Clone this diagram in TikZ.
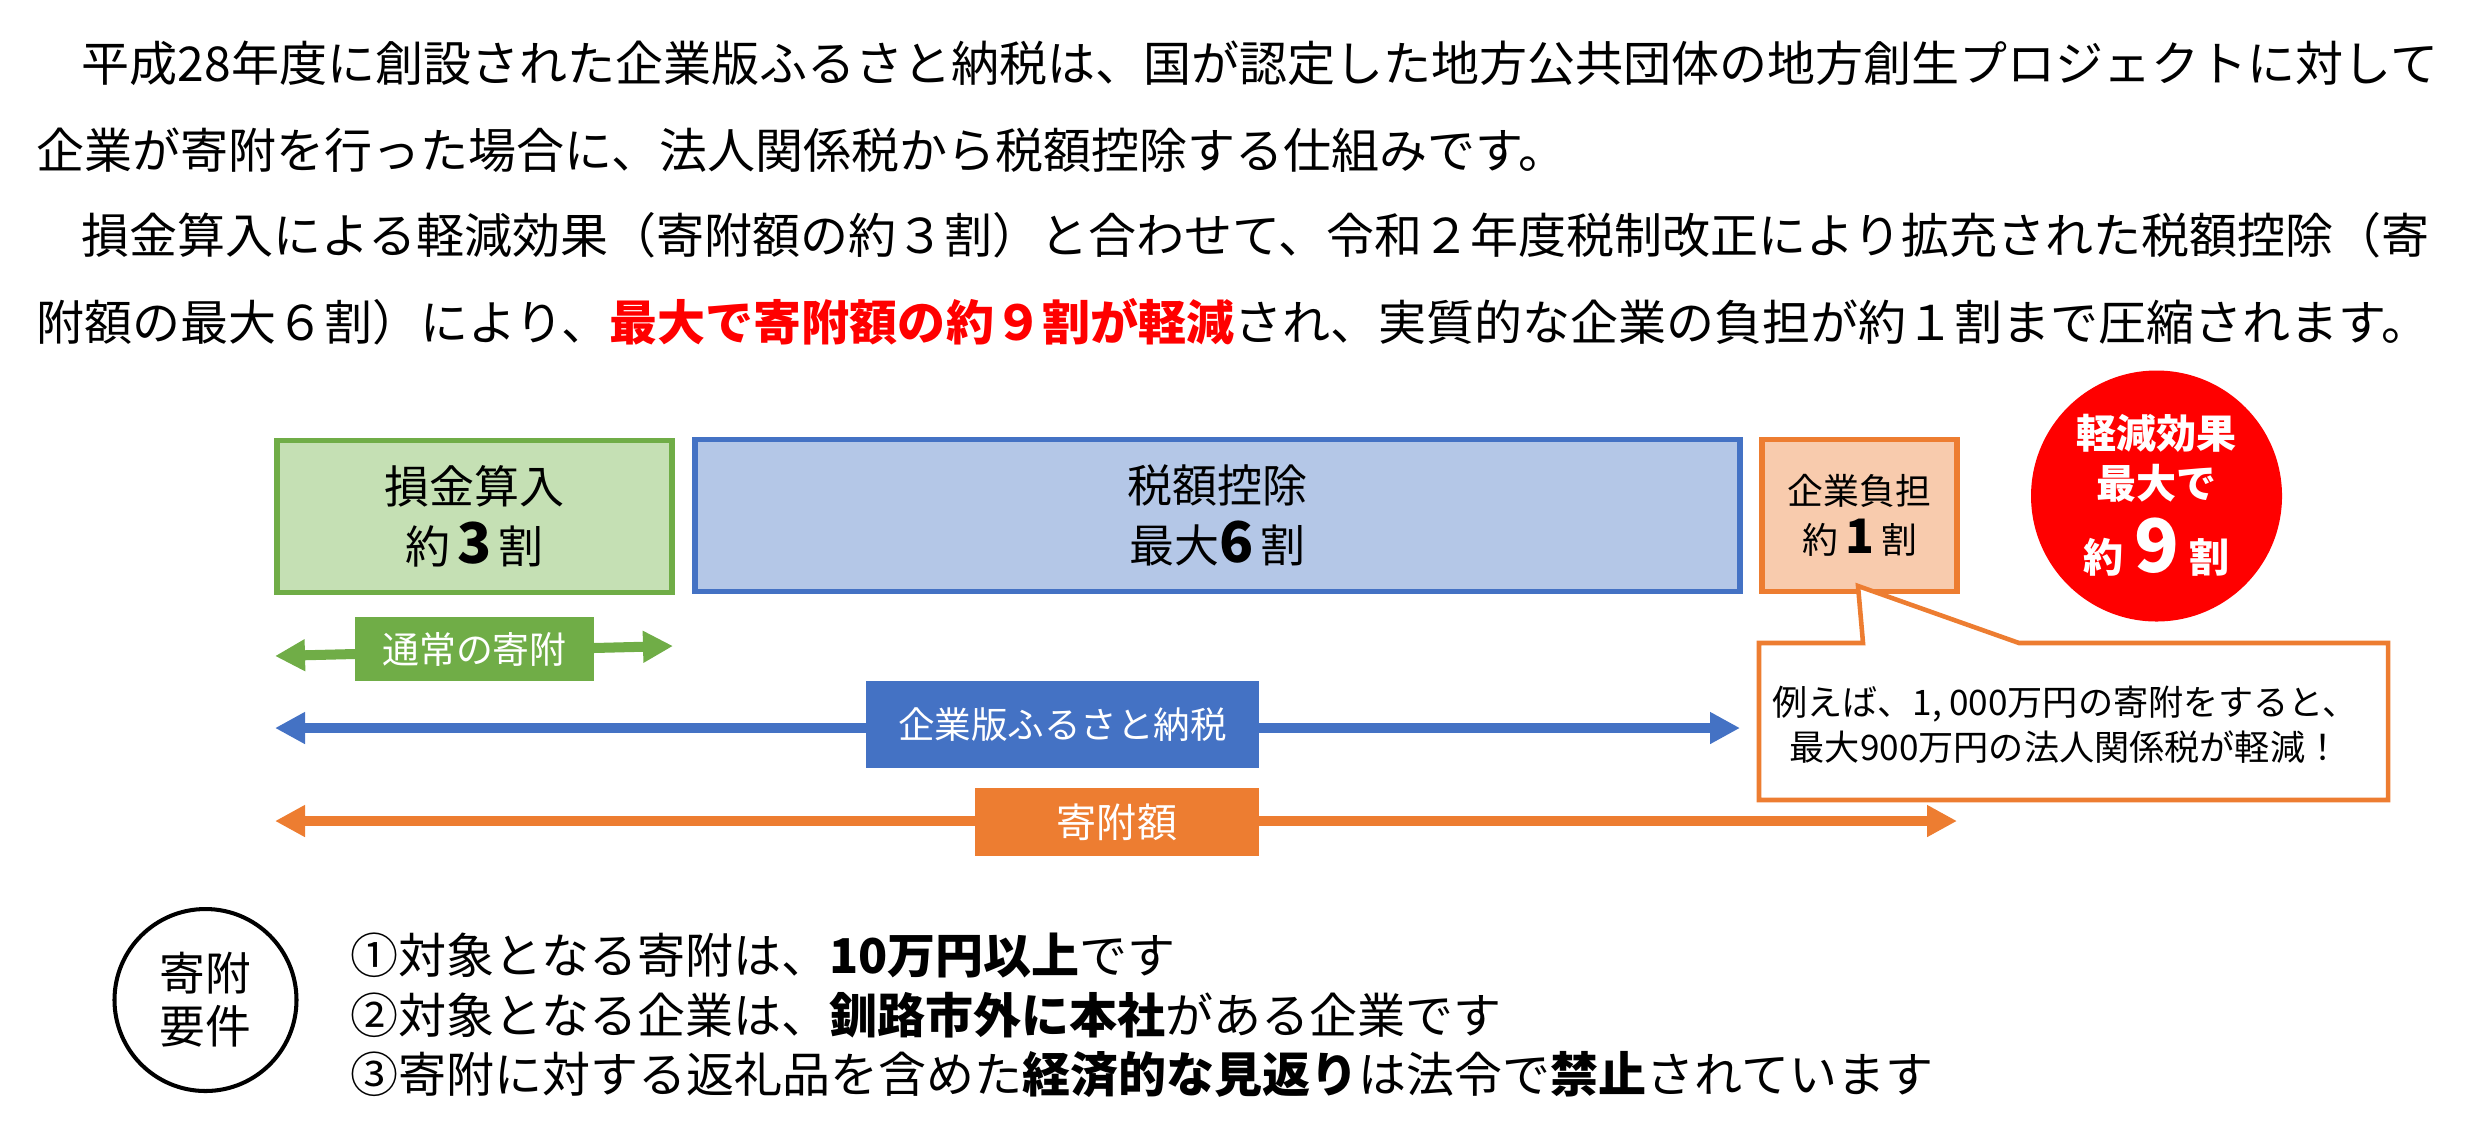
\documentclass[tikz,border=0pt]{standalone}
\usepackage{fontspec}
\setmainfont{Noto Sans CJK JP}
\usetikzlibrary{arrows.meta}

\definecolor{kgreen}{HTML}{70AD47}
\definecolor{kgreenl}{HTML}{C5E0B4}
\definecolor{kblue}{HTML}{4472C4}
\definecolor{kbluel}{HTML}{B4C7E7}
\definecolor{korange}{HTML}{ED7D31}
\definecolor{korangel}{HTML}{F8CBAD}
\definecolor{kred}{HTML}{FF0000}

\newcommand{\fsz}[2]{\fontsize{#1}{#2}\selectfont}

\tikzset{
  box/.style={draw, line width=1.6pt, align=center, inner sep=0pt},
  lbl/.style={text=white, inner sep=0pt},
  band/.style={line width=2.85pt, {Triangle[length=3mm,width=3mm]}-{Triangle[length=3mm,width=3mm]}},
  para/.style={anchor=west, inner sep=0pt, font=\fsz{13.66pt}{16pt}},
}

\begin{document}
\begin{tikzpicture}[x=1cm,y=-1cm]
\useasboundingbox (0,0) rectangle (24.75,11.28);

% paragraph
\node[para] (p1) at (0.81,0.63) {平成28年度に創設された企業版ふるさと納税は、国が認定した地方公共団体の地方創生プロジェクトに対して};
\node[para] (p2) at (0.36,1.50) {企業が寄附を行った場合に、法人関係税から税額控除する仕組みです。};
\node[para] (p3) at (0.81,2.35) {損金算入による軽減効果（寄附額の約３割）と合わせて、令和２年度税制改正により拡充された税額控除（寄};
\node[para] (p4) at (0.36,3.22) {附額の最大６割）により、{\color{kred}\bfseries 最大で寄附額の約９割が軽減}され、実質的な企業の負担が約１割まで圧縮されます。};

% boxes
\node[box, draw=kgreen, fill=kgreenl, minimum width=3.955cm, minimum height=1.52cm, font=\fsz{12.8pt}{17.1pt}] (sonkin) at (4.745,5.165)
  {損金算入\\約\hspace{2pt}{\fsz{16pt}{17pt}\bfseries 3}\hspace{2pt}割};
\node[box, draw=kblue, fill=kbluel, minimum width=10.45cm, minimum height=1.52cm, font=\fsz{12.8pt}{17.1pt}] (zeigaku) at (12.175,5.155)
  {税額控除\\最大{\fsz{16pt}{17pt}\bfseries 6}\hspace{2pt}割};
\node[box, draw=korange, fill=korangel, minimum width=1.955cm, minimum height=1.52cm, font=\fsz{10.2pt}{13.9pt}] (futan) at (18.595,5.155)
  {企業負担\\約\hspace{2pt}{\fsz{13.5pt}{14pt}\bfseries 1}\hspace{2pt}割};

% red circle
\node[circle, fill=kred, minimum size=2.51cm, inner sep=0pt] (kouka) at (21.565,4.96) {};
\node[lbl, anchor=base, font=\fsz{11.4pt}{13pt}\bfseries] (kouka1) at (21.565,4.48) {軽減効果};
\node[lbl, anchor=base, font=\fsz{11.4pt}{13pt}\bfseries] (kouka2) at (21.565,4.98) {最大で};
\node[lbl, anchor=base, font=\fsz{11.4pt}{13pt}\bfseries] (kouka3) at (21.565,5.72)
  {約\hspace{3pt}{\fsz{21pt}{22pt}9}\hspace{3pt}割};

% arrows
\coordinate (g1) at (2.75,6.56);
\coordinate (g2) at (6.73,6.46);
\draw[band, kgreen] (g1) -- (g2);
\node[lbl, fill=kgreen, minimum width=2.39cm, minimum height=0.64cm, font=\fsz{10.5pt}{12pt}] (tsujo) at (4.745,6.49) {通常の寄附};

\coordinate (b1) at (2.75,7.28);
\coordinate (b2) at (17.40,7.28);
\draw[band, kblue] (b1) -- (b2);
\node[lbl, fill=kblue, minimum width=3.93cm, minimum height=0.87cm, font=\fsz{10.4pt}{12pt}] (furusato) at (10.625,7.245) {企業版ふるさと納税};

\coordinate (o1) at (2.75,8.21);
\coordinate (o2) at (19.57,8.21);
\draw[band, korange] (o1) -- (o2);
\node[lbl, fill=korange, minimum width=2.84cm, minimum height=0.68cm, font=\fsz{11.4pt}{13pt}] (kifugaku) at (11.17,8.22) {寄附額};

% callout
\draw[korange, line width=1.3pt, fill=white] (17.59,6.43) -- (18.63,6.43) -- (18.58,5.86) -- (20.19,6.43)
  -- (23.88,6.43) -- (23.88,8.00) -- (17.59,8.00) -- cycle;
\node[align=center, inner sep=0pt, font=\fsz{10pt}{12.8pt}] (rei) at (20.65,7.245)
  {例えば、1,\hspace{2pt}000万円の寄附をすると、\\最大900万円の法人関係税が軽減！};

% requirements
\node[circle, draw, line width=1.15pt, minimum size=1.82cm, inner sep=0pt, align=center, font=\fsz{13pt}{15.1pt}] (youken) at (2.055,10.00) {寄附\\要件};
\node[para] (r1) at (3.50,9.55) {①対象となる寄附は、{\bfseries 10万円以上}です};
\node[para] (r2) at (3.50,10.15) {②対象となる企業は、{\bfseries 釧路市外に本社}がある企業です};
\node[para] (r3) at (3.50,10.74) {③寄附に対する返礼品を含めた{\bfseries 経済的な見返り}は法令で{\bfseries 禁止}されています};
\end{tikzpicture}
\end{document}
